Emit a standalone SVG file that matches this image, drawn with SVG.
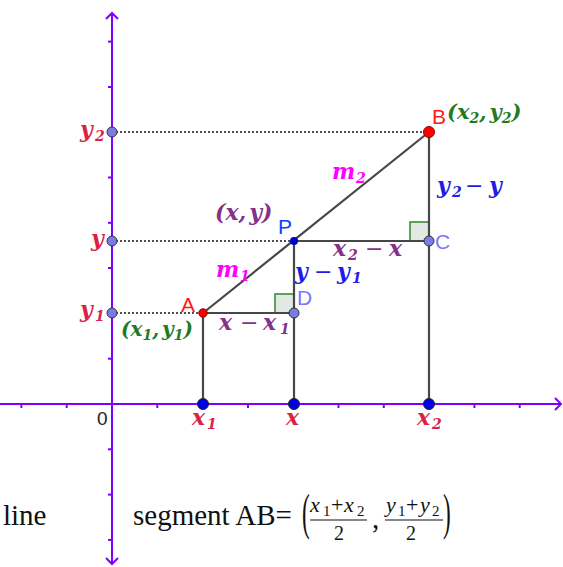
<svg xmlns="http://www.w3.org/2000/svg" width="563" height="567" viewBox="0 0 563 567">
<style>
.axis{stroke:#7f00ff;stroke-width:2;fill:none}
.tick{stroke:#7f00ff;stroke-width:2}
.seg{stroke:#474747;stroke-width:2.2;fill:none}
.dot{stroke:#505050;stroke-width:2;stroke-dasharray:2 2;fill:none}
.ra{fill:#e2e8e2;stroke:#3c8c3c;stroke-width:1.6}
.m{font-family:"DejaVu Serif","Liberation Serif",serif;font-style:italic;font-weight:bold;font-size:22px}
.up{font-style:normal;font-weight:normal}
.s{font-family:"Liberation Sans",Arial,sans-serif;font-size:21px}
.sub{font-size:14px}
.crim{fill:#dc1f45}
.grn{fill:#237a23}
.pur{fill:#85308a}
.mag{fill:#ff00ff}
.blu{fill:#1d1de6}
.pax{fill:#7b7be6;stroke:#333;stroke-width:1}
.pbl{fill:#0000e6;stroke:#222;stroke-width:1}
.pred{fill:#ff0000;stroke:#8a0000;stroke-width:1}
.body{font-family:"Liberation Serif",serif;font-size:29px;fill:#111}
.frac{font-family:"Liberation Serif",serif;font-style:italic;font-size:22px;fill:#111}
.fsub{font-size:15px;font-style:normal}
.den{font-family:"Liberation Serif",serif;font-size:20px;fill:#111}
.bar{stroke:#111;stroke-width:1.2}
</style>

<g id="axes">
  <line class="axis" x1="0" y1="404" x2="561" y2="404"/>
  <polyline class="axis" points="555,398 561,404 555,410"/>
  <line class="axis" x1="112" y1="13" x2="112" y2="564"/>
  <polyline class="axis" points="106,19 112,13 118,19"/>
  <polyline class="axis" points="106,558 112,564 118,558"/>
  <g class="tick">
    <line x1="21.4" y1="404" x2="21.4" y2="408"/>
    <line x1="66.7" y1="404" x2="66.7" y2="408"/>
    <line x1="157.3" y1="404" x2="157.3" y2="408"/>
    <line x1="248" y1="404" x2="248" y2="408"/>
    <line x1="338.5" y1="404" x2="338.5" y2="408"/>
    <line x1="383.8" y1="404" x2="383.8" y2="408"/>
    <line x1="474.4" y1="404" x2="474.4" y2="408"/>
    <line x1="519.7" y1="404" x2="519.7" y2="408"/>
    <line x1="108" y1="41.6" x2="112" y2="41.6"/>
    <line x1="108" y1="87" x2="112" y2="87"/>
    <line x1="108" y1="177.5" x2="112" y2="177.5"/>
    <line x1="108" y1="222.8" x2="112" y2="222.8"/>
    <line x1="108" y1="268" x2="112" y2="268"/>
    <line x1="108" y1="358.7" x2="112" y2="358.7"/>
    <line x1="108" y1="449.3" x2="112" y2="449.3"/>
    <line x1="108" y1="494.6" x2="112" y2="494.6"/>
    <line x1="108" y1="539.9" x2="112" y2="539.9"/>
  </g>
  <text class="s" x="97" y="425" fill="#222" style="font-size:19px">0</text>
</g>

<g id="connectors">
  <line class="dot" x1="112" y1="132" x2="429" y2="132"/>
  <line class="dot" x1="112" y1="241" x2="294" y2="241"/>
  <line class="dot" x1="112" y1="313" x2="203" y2="313"/>
  <rect class="ra" x="275" y="294" width="19" height="19"/>
  <rect class="ra" x="410" y="222" width="19" height="19"/>
  <line class="seg" x1="203" y1="313" x2="429" y2="132"/>
  <line class="seg" x1="203" y1="313" x2="294" y2="313"/>
  <line class="seg" x1="294" y1="241" x2="429" y2="241"/>
  <line class="seg" x1="203" y1="313" x2="203" y2="404"/>
  <line class="seg" x1="294" y1="241" x2="294" y2="404"/>
  <line class="seg" x1="429" y1="132" x2="429" y2="404"/>
  <text class="m mag"><tspan x="216" y="277">m</tspan><tspan class="sub" x="240" y="281">1</tspan></text>
  <text class="m mag"><tspan x="332" y="179">m</tspan><tspan class="sub" x="356" y="183">2</tspan></text>
  <text class="m pur"><tspan x="219" y="330">x</tspan><tspan class="up" x="240" y="330">−</tspan><tspan x="263" y="330">x</tspan><tspan class="sub" x="280" y="334">1</tspan></text>
  <text class="m blu"><tspan x="295" y="279">y</tspan><tspan class="up" x="314" y="279">−</tspan><tspan x="337" y="279">y</tspan><tspan class="sub" x="352" y="283">1</tspan></text>
  <text class="m pur"><tspan x="333" y="256">x</tspan><tspan class="sub" x="348" y="260">2</tspan><tspan class="up" x="365" y="256">−</tspan><tspan x="389" y="256">x</tspan></text>
  <text class="m blu"><tspan x="437" y="193">y</tspan><tspan class="sub" x="452" y="197">2</tspan><tspan class="up" x="465" y="193">−</tspan><tspan x="489" y="193">y</tspan></text>
</g>

<g id="node-y2">
  <circle class="pax" cx="112" cy="132" r="5"/>
  <text class="m crim"><tspan x="80" y="137">y</tspan><tspan class="sub" x="95" y="141">2</tspan></text>
</g>
<g id="node-y">
  <circle class="pax" cx="112" cy="241" r="5"/>
  <text class="m crim" x="91" y="246">y</text>
</g>
<g id="node-y1">
  <circle class="pax" cx="112" cy="313" r="5"/>
  <text class="m crim"><tspan x="80" y="317">y</tspan><tspan class="sub" x="95" y="321">1</tspan></text>
</g>
<g id="node-x1">
  <circle class="pbl" cx="203" cy="404" r="5.5"/>
  <text class="m crim"><tspan x="192" y="425">x</tspan><tspan class="sub" x="207" y="429">1</tspan></text>
</g>
<g id="node-x">
  <circle class="pbl" cx="294" cy="404" r="5.5"/>
  <text class="m crim" x="286" y="425">x</text>
</g>
<g id="node-x2">
  <circle class="pbl" cx="429" cy="404" r="5.5"/>
  <text class="m crim"><tspan x="417" y="425">x</tspan><tspan class="sub" x="432" y="429">2</tspan></text>
</g>
<g id="node-A">
  <circle class="pred" cx="203" cy="313" r="4.2"/>
  <text class="s" x="181" y="312" fill="#ff1a1a">A</text>
  <text class="m grn" style="font-size:20px" x="121" y="336">(x<tspan class="sub" dy="4">1</tspan><tspan dy="-4">,</tspan><tspan dx="3">y</tspan><tspan class="sub" dy="4">1</tspan><tspan dy="-4">)</tspan></text>
</g>
<g id="node-D">
  <circle class="pax" cx="294" cy="313" r="5"/>
  <text class="s" x="297" y="305" fill="#7878ff">D</text>
</g>
<g id="node-P">
  <circle cx="294" cy="241" r="4" fill="#0000c8"/>
  <text class="s" x="278" y="234" fill="#1040ff">P</text>
  <text class="m pur" style="font-size:22px" x="215" y="220">(x,<tspan dx="3">y)</tspan></text>
</g>
<g id="node-C">
  <circle class="pax" cx="429" cy="241" r="5"/>
  <text class="s" x="435" y="249" fill="#7878ff">C</text>
</g>
<g id="node-B">
  <circle class="pred" cx="429" cy="132" r="5.5"/>
  <text class="s" x="432" y="124" fill="#ff1a1a">B</text>
  <text class="m grn" style="font-size:21px" x="447" y="119">(x<tspan class="sub" dy="4">2</tspan><tspan dy="-4">,</tspan><tspan dx="3">y</tspan><tspan class="sub" dy="4">2</tspan><tspan dy="-4">)</tspan></text>
</g>

<g id="caption">
  <text class="body" x="3" y="525">line</text>
  <text class="body" x="133" y="525">segment AB=</text>
  <text class="body" transform="translate(302,529) scale(0.8,1.75)" x="0" y="0">(</text>
  <text class="frac"><tspan x="310" y="512">x</tspan><tspan class="fsub" x="323" y="516">1</tspan><tspan style="font-style:normal" x="331" y="512">+</tspan><tspan x="344" y="512">x</tspan><tspan class="fsub" x="357" y="516">2</tspan></text>
  <line class="bar" x1="310" y1="520" x2="367" y2="520"/>
  <text class="den" x="339" y="540" text-anchor="middle">2</text>
  <text class="body" x="372" y="528">,</text>
  <text class="frac"><tspan x="386" y="512">y</tspan><tspan class="fsub" x="398" y="516">1</tspan><tspan style="font-style:normal" x="406" y="512">+</tspan><tspan x="420" y="512">y</tspan><tspan class="fsub" x="432" y="516">2</tspan></text>
  <line class="bar" x1="385" y1="520" x2="443" y2="520"/>
  <text class="den" x="411" y="540" text-anchor="middle">2</text>
  <text class="body" transform="translate(443,529) scale(0.8,1.75)" x="0" y="0">)</text>
</g>
</svg>
